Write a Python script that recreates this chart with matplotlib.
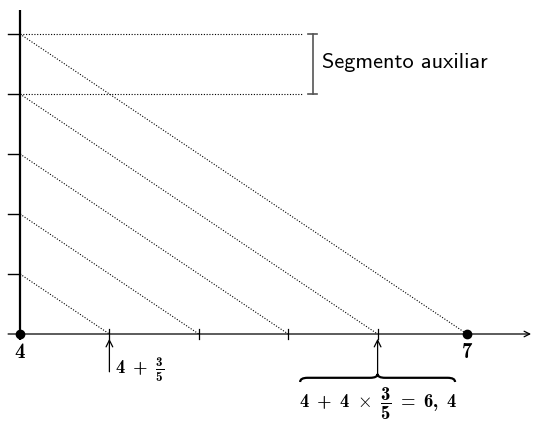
import numpy as np
import matplotlib.pyplot as plt
from matplotlib.path import Path
from matplotlib.patches import PathPatch

plt.rcParams['mathtext.fontset'] = 'custom'
plt.rcParams['mathtext.rm'] = 'cmb10'
plt.rcParams['mathtext.bf'] = 'cmb10'
plt.rcParams['mathtext.it'] = 'cmb10'
plt.rcParams['mathtext.fallback'] = 'cm'

# data of the construction
a = 4          # start of the segment
b = 7          # end of the segment
n_parts = 5    # auxiliary segment divided in 5 parts
marks = [1, 2, 3, 4, 5]
k_sel = 4      # the point we want: 4 + 4*3/5
step = (b - a) / n_parts
x_ticks = [a + step * k for k in range(1, n_parts)]   # 4.6, 5.2, 5.8, 6.4
aux_end = 5.89

fig = plt.figure(figsize=(5.33, 4.23), dpi=100)
ax = fig.add_axes([0, 0, 1, 1])
ax.set_xlim(a - 20 / 149, a + 513 / 149)
ax.set_ylim(-89 / 60, 334 / 60)
ax.axis('off')

# axes
ax.annotate('', xy=(7.43, 0), xytext=(3.92, 0),
            arrowprops=dict(arrowstyle='->', lw=0.9, color='black',
                            shrinkA=0, shrinkB=0, mutation_scale=10))
ax.plot([a, a], [-0.1, 5.4], color='black', lw=1.6, solid_capstyle='butt')

# y ticks
for m in marks:
    ax.plot([a - 0.08, a], [m, m], color='black', lw=1.0)
# x ticks
for xt in x_ticks:
    ax.plot([xt, xt], [-0.08, 0.08], color='black', lw=0.9)

# horizontal dotted lines
for m in [marks[-1], marks[-2]]:
    ax.plot([a, aux_end], [m, m], color='black', lw=0.8, ls=(0, (1, 1.5)))

# diagonal parallels
for m in marks:
    ax.plot([a, a + step * m], [m, 0], color='black', lw=0.8, ls=(0, (1, 1.5)))

# points
ax.plot([a, b], [0, 0], 'o', color='black', ms=6)

# auxiliary segment marker
xs = 5.966
ax.plot([xs, xs], [4, 5], color='#555555', lw=1.2)
for m in [4, 5]:
    ax.plot([xs - 0.03, xs + 0.03], [m, m], color='#555555', lw=1.2)
ax.text(6.03, 4.52, 'Segmento auxiliar', family='cmss10', fontsize=16,
        ha='left', va='center')

# labels of endpoints
ax.text(a, -0.14, r'$4$', fontsize=15, ha='center', va='top')
ax.text(b, -0.14, r'$7$', fontsize=15, ha='center', va='top')

# first division
x1 = x_ticks[0]
ax.annotate('', xy=(x1, -0.08), xytext=(x1, -0.63),
            arrowprops=dict(arrowstyle='->', lw=0.9, color='black',
                            shrinkA=0, shrinkB=0, mutation_scale=12))
ax.text(x1 + 0.04, -0.6, r'$4\ +\ \frac{3}{5}$', fontsize=13.5,
        ha='left', va='center')

# selected division
x4 = x_ticks[k_sel - 1]
ax.annotate('', xy=(x4, -0.08), xytext=(x4, -0.67),
            arrowprops=dict(arrowstyle='->', lw=0.9, color='black',
                            shrinkA=0, shrinkB=0, mutation_scale=12))

# brace
w = 0.52
y0, h = -0.73, 0.07
verts = [(x4 - w, y0 - h), (x4 - w, y0), (x4 - w + 0.05, y0),
         (x4 - 0.05, y0), (x4, y0), (x4, y0 + 0.065),
         (x4, y0), (x4 + 0.05, y0),
         (x4 + w - 0.05, y0), (x4 + w, y0), (x4 + w, y0 - h)]
codes = [Path.MOVETO, Path.CURVE3, Path.CURVE3,
         Path.LINETO, Path.CURVE3, Path.CURVE3,
         Path.CURVE3, Path.CURVE3,
         Path.LINETO, Path.CURVE3, Path.CURVE3]
ax.add_patch(PathPatch(Path(verts, codes), fill=False, lw=1.6, color='black'))
ax.text(x4, -1.16, r'$4\ +\ 4\ \times\ \dfrac{3}{5}\ =\ 6,\ 4$', fontsize=13.5,
        ha='center', va='center')

fig.savefig('out.png', dpi=100)
